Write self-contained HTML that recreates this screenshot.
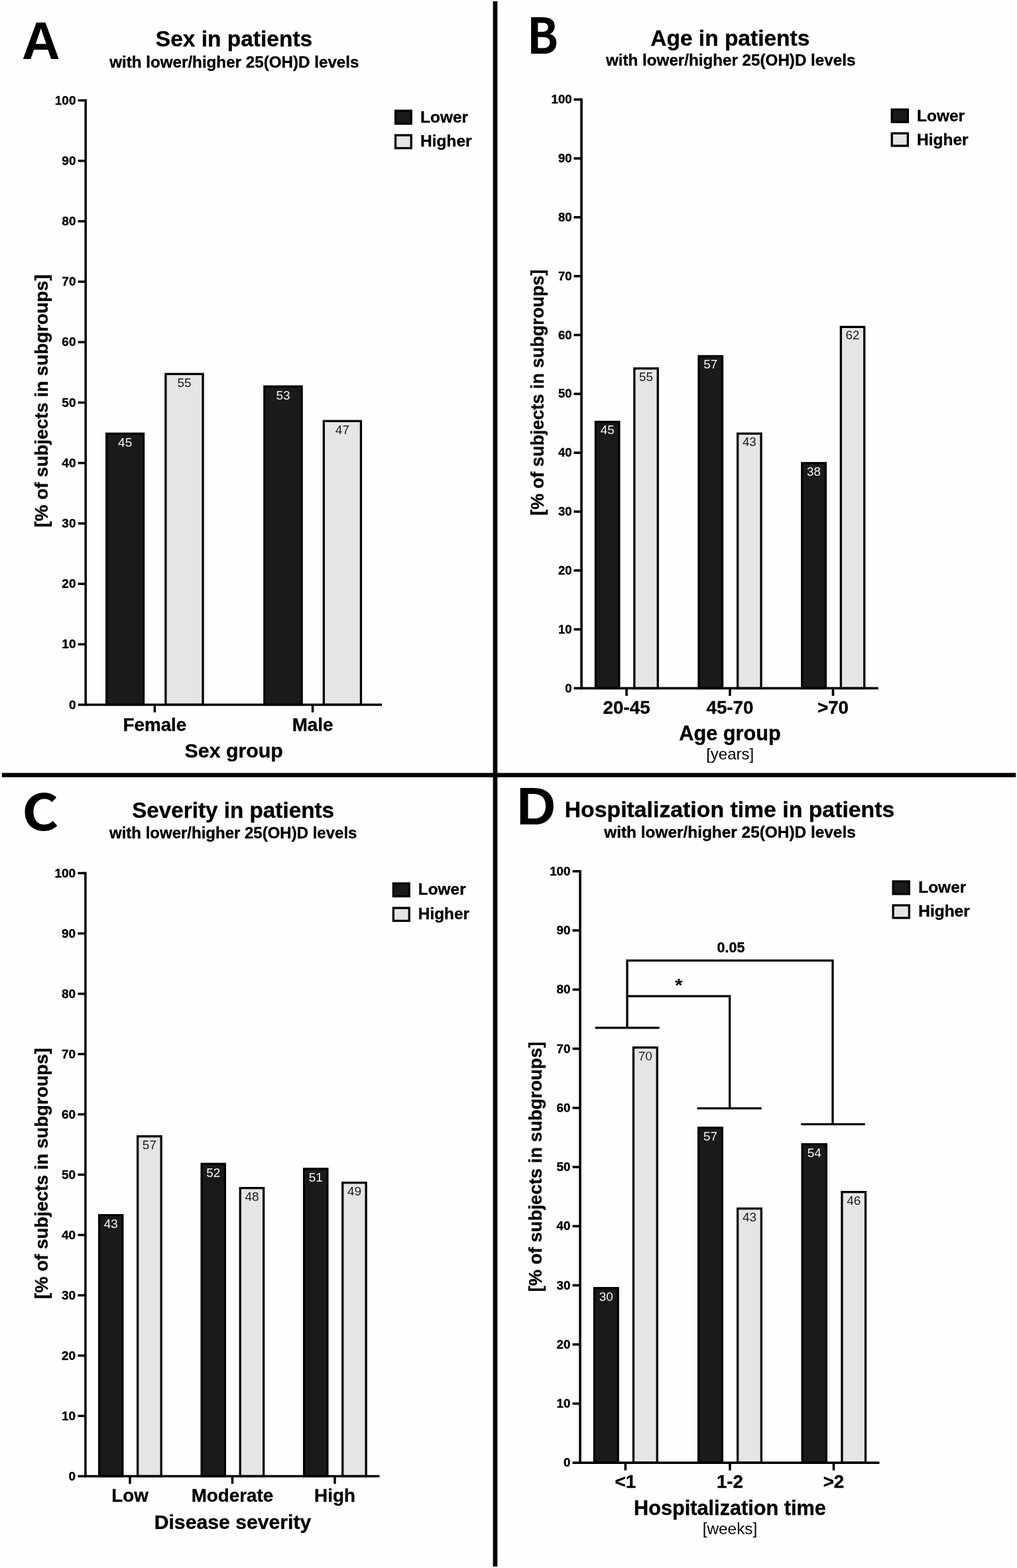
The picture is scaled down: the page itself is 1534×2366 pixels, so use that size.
<!DOCTYPE html>
<html lang="en">
<head>
<meta charset="utf-8">
<title>Patient characteristics with lower/higher 25(OH)D levels</title>
<style>
html,body{margin:0;padding:0;background:#fff;}
body{width:1534px;height:2366px;overflow:hidden;}
svg{display:block;font-family:"Liberation Sans", Arial, Helvetica, sans-serif;}
</style>
</head>
<body>
<svg role="img" aria-label="Four bar charts: sex, age, severity and hospitalization time in patients with lower/higher 25(OH)D levels" width="1534" height="2366" viewBox="0 0 1534 2366">
<rect x="0" y="0" width="1534" height="2366" fill="#fefefe"/>
<g>
<text transform="translate(32.69,89.0) scale(1.0111,1)" font-size="79.42" font-weight="bold" font-family='"Liberation Sans", Arial, Helvetica, sans-serif' text-anchor="start">A</text>
<text x="353.00" y="70.00" font-size="33.5" font-weight="bold" text-anchor="middle" fill="#000" stroke="#000" stroke-width="0.35" stroke-linejoin="round">Sex in patients</text>
<text x="353.30" y="101.50" font-size="24.2" font-weight="bold" text-anchor="middle" fill="#000" stroke="#000" stroke-width="0.35" stroke-linejoin="round">with lower/higher 25(OH)D levels</text>
<rect x="160.75" y="654.35" width="55.80" height="409.05" fill="#1a1a1a" stroke="#000" stroke-width="3.3"/>
<text x="188.65" y="674.30" font-size="19" font-weight="normal" text-anchor="middle" fill="#f2f2f2">45</text>
<rect x="249.85" y="564.35" width="56.20" height="499.05" fill="#e5e5e5" stroke="#000" stroke-width="3.3"/>
<text x="277.95" y="584.30" font-size="19" font-weight="normal" text-anchor="middle" fill="#1a1a1a">55</text>
<rect x="398.85" y="583.15" width="56.30" height="480.25" fill="#1a1a1a" stroke="#000" stroke-width="3.3"/>
<text x="427.00" y="603.10" font-size="19" font-weight="normal" text-anchor="middle" fill="#f2f2f2">53</text>
<rect x="488.35" y="635.35" width="56.10" height="428.05" fill="#e5e5e5" stroke="#000" stroke-width="3.3"/>
<text x="516.40" y="655.30" font-size="19" font-weight="normal" text-anchor="middle" fill="#1a1a1a">47</text>
<rect x="127.45" y="149.75" width="3.50" height="915.40" fill="#000"/>
<rect x="117.70" y="1061.65" width="458.30" height="3.50" fill="#000"/>
<text x="114.50" y="1069.60" font-size="19" font-weight="bold" text-anchor="end" fill="#000" stroke="#000" stroke-width="0.35" stroke-linejoin="round">0</text>
<rect x="117.70" y="970.46" width="11.50" height="3.50" fill="#000"/>
<text x="114.50" y="978.41" font-size="19" font-weight="bold" text-anchor="end" fill="#000" stroke="#000" stroke-width="0.35" stroke-linejoin="round">10</text>
<rect x="117.70" y="879.27" width="11.50" height="3.50" fill="#000"/>
<text x="114.50" y="887.22" font-size="19" font-weight="bold" text-anchor="end" fill="#000" stroke="#000" stroke-width="0.35" stroke-linejoin="round">20</text>
<rect x="117.70" y="788.08" width="11.50" height="3.50" fill="#000"/>
<text x="114.50" y="796.03" font-size="19" font-weight="bold" text-anchor="end" fill="#000" stroke="#000" stroke-width="0.35" stroke-linejoin="round">30</text>
<rect x="117.70" y="696.89" width="11.50" height="3.50" fill="#000"/>
<text x="114.50" y="704.84" font-size="19" font-weight="bold" text-anchor="end" fill="#000" stroke="#000" stroke-width="0.35" stroke-linejoin="round">40</text>
<rect x="117.70" y="605.70" width="11.50" height="3.50" fill="#000"/>
<text x="114.50" y="613.65" font-size="19" font-weight="bold" text-anchor="end" fill="#000" stroke="#000" stroke-width="0.35" stroke-linejoin="round">50</text>
<rect x="117.70" y="514.51" width="11.50" height="3.50" fill="#000"/>
<text x="114.50" y="522.46" font-size="19" font-weight="bold" text-anchor="end" fill="#000" stroke="#000" stroke-width="0.35" stroke-linejoin="round">60</text>
<rect x="117.70" y="423.32" width="11.50" height="3.50" fill="#000"/>
<text x="114.50" y="431.27" font-size="19" font-weight="bold" text-anchor="end" fill="#000" stroke="#000" stroke-width="0.35" stroke-linejoin="round">70</text>
<rect x="117.70" y="332.13" width="11.50" height="3.50" fill="#000"/>
<text x="114.50" y="340.08" font-size="19" font-weight="bold" text-anchor="end" fill="#000" stroke="#000" stroke-width="0.35" stroke-linejoin="round">80</text>
<rect x="117.70" y="240.94" width="11.50" height="3.50" fill="#000"/>
<text x="114.50" y="248.89" font-size="19" font-weight="bold" text-anchor="end" fill="#000" stroke="#000" stroke-width="0.35" stroke-linejoin="round">90</text>
<rect x="117.70" y="149.75" width="11.50" height="3.50" fill="#000"/>
<text x="114.50" y="157.70" font-size="19" font-weight="bold" text-anchor="end" fill="#000" stroke="#000" stroke-width="0.35" stroke-linejoin="round">100</text>
<rect x="231.65" y="1063.40" width="3.50" height="11.50" fill="#000"/>
<text x="233.40" y="1103.00" font-size="27.8" font-weight="bold" text-anchor="middle" fill="#000" stroke="#000" stroke-width="0.35" stroke-linejoin="round">Female</text>
<rect x="469.85" y="1063.40" width="3.50" height="11.50" fill="#000"/>
<text x="471.60" y="1103.00" font-size="27.8" font-weight="bold" text-anchor="middle" fill="#000" stroke="#000" stroke-width="0.35" stroke-linejoin="round">Male</text>
<text x="352.70" y="1142.50" font-size="30.3" font-weight="bold" text-anchor="middle" fill="#000" stroke="#000" stroke-width="0.35" stroke-linejoin="round">Sex group</text>
<text transform="translate(71.8,605) rotate(-90)" font-size="27.8" font-weight="bold" text-anchor="middle" stroke="#000" stroke-width="0.35" stroke-linejoin="round">[% of subjects in subgroups]</text>
<rect x="596.55" y="167.15" width="23.70" height="19.50" fill="#1a1a1a" stroke="#000" stroke-width="3.3"/>
<rect x="596.55" y="204.05" width="23.70" height="19.50" fill="#e5e5e5" stroke="#000" stroke-width="3.3"/>
<text x="634.00" y="184.70" font-size="24.5" font-weight="bold" text-anchor="start" fill="#000" stroke="#000" stroke-width="0.35" stroke-linejoin="round">Lower</text>
<text x="634.00" y="221.40" font-size="24.5" font-weight="bold" text-anchor="start" fill="#000" stroke="#000" stroke-width="0.35" stroke-linejoin="round">Higher</text>
</g>
<g>
<text transform="translate(794.75,80.5) scale(0.9431,1)" font-size="73.65" font-weight="bold" font-family='"Noto Sans CJK SC", "DejaVu Sans", "Liberation Sans", sans-serif' text-anchor="start">B</text>
<text x="1101.30" y="68.80" font-size="33.5" font-weight="bold" text-anchor="middle" fill="#000" stroke="#000" stroke-width="0.35" stroke-linejoin="round">Age in patients</text>
<text x="1102.20" y="99.20" font-size="24.2" font-weight="bold" text-anchor="middle" fill="#000" stroke="#000" stroke-width="0.35" stroke-linejoin="round">with lower/higher 25(OH)D levels</text>
<rect x="898.45" y="636.55" width="35.40" height="401.95" fill="#1a1a1a" stroke="#000" stroke-width="3.3"/>
<text x="916.15" y="655.40" font-size="18.8" font-weight="normal" text-anchor="middle" fill="#f2f2f2">45</text>
<rect x="956.85" y="555.95" width="35.40" height="482.55" fill="#e5e5e5" stroke="#000" stroke-width="3.3"/>
<text x="974.55" y="574.80" font-size="18.8" font-weight="normal" text-anchor="middle" fill="#1a1a1a">55</text>
<rect x="1054.05" y="537.45" width="35.50" height="501.05" fill="#1a1a1a" stroke="#000" stroke-width="3.3"/>
<text x="1071.80" y="556.30" font-size="18.8" font-weight="normal" text-anchor="middle" fill="#f2f2f2">57</text>
<rect x="1112.65" y="654.25" width="35.40" height="384.25" fill="#e5e5e5" stroke="#000" stroke-width="3.3"/>
<text x="1130.35" y="673.10" font-size="18.8" font-weight="normal" text-anchor="middle" fill="#1a1a1a">43</text>
<rect x="1209.75" y="698.75" width="35.60" height="339.75" fill="#1a1a1a" stroke="#000" stroke-width="3.3"/>
<text x="1227.55" y="717.60" font-size="18.8" font-weight="normal" text-anchor="middle" fill="#f2f2f2">38</text>
<rect x="1268.35" y="493.35" width="35.40" height="545.15" fill="#e5e5e5" stroke="#000" stroke-width="3.3"/>
<text x="1286.05" y="512.20" font-size="18.8" font-weight="normal" text-anchor="middle" fill="#1a1a1a">62</text>
<rect x="875.25" y="148.40" width="3.60" height="891.90" fill="#000"/>
<rect x="865.55" y="1036.70" width="459.25" height="3.60" fill="#000"/>
<text x="862.65" y="1044.60" font-size="18.6" font-weight="bold" text-anchor="end" fill="#000" stroke="#000" stroke-width="0.35" stroke-linejoin="round">0</text>
<rect x="865.55" y="947.87" width="11.50" height="3.60" fill="#000"/>
<text x="862.65" y="955.77" font-size="18.6" font-weight="bold" text-anchor="end" fill="#000" stroke="#000" stroke-width="0.35" stroke-linejoin="round">10</text>
<rect x="865.55" y="859.04" width="11.50" height="3.60" fill="#000"/>
<text x="862.65" y="866.94" font-size="18.6" font-weight="bold" text-anchor="end" fill="#000" stroke="#000" stroke-width="0.35" stroke-linejoin="round">20</text>
<rect x="865.55" y="770.21" width="11.50" height="3.60" fill="#000"/>
<text x="862.65" y="778.11" font-size="18.6" font-weight="bold" text-anchor="end" fill="#000" stroke="#000" stroke-width="0.35" stroke-linejoin="round">30</text>
<rect x="865.55" y="681.38" width="11.50" height="3.60" fill="#000"/>
<text x="862.65" y="689.28" font-size="18.6" font-weight="bold" text-anchor="end" fill="#000" stroke="#000" stroke-width="0.35" stroke-linejoin="round">40</text>
<rect x="865.55" y="592.55" width="11.50" height="3.60" fill="#000"/>
<text x="862.65" y="600.45" font-size="18.6" font-weight="bold" text-anchor="end" fill="#000" stroke="#000" stroke-width="0.35" stroke-linejoin="round">50</text>
<rect x="865.55" y="503.72" width="11.50" height="3.60" fill="#000"/>
<text x="862.65" y="511.62" font-size="18.6" font-weight="bold" text-anchor="end" fill="#000" stroke="#000" stroke-width="0.35" stroke-linejoin="round">60</text>
<rect x="865.55" y="414.89" width="11.50" height="3.60" fill="#000"/>
<text x="862.65" y="422.79" font-size="18.6" font-weight="bold" text-anchor="end" fill="#000" stroke="#000" stroke-width="0.35" stroke-linejoin="round">70</text>
<rect x="865.55" y="326.06" width="11.50" height="3.60" fill="#000"/>
<text x="862.65" y="333.96" font-size="18.6" font-weight="bold" text-anchor="end" fill="#000" stroke="#000" stroke-width="0.35" stroke-linejoin="round">80</text>
<rect x="865.55" y="237.23" width="11.50" height="3.60" fill="#000"/>
<text x="862.65" y="245.13" font-size="18.6" font-weight="bold" text-anchor="end" fill="#000" stroke="#000" stroke-width="0.35" stroke-linejoin="round">90</text>
<rect x="865.55" y="148.40" width="11.50" height="3.60" fill="#000"/>
<text x="862.65" y="156.30" font-size="18.6" font-weight="bold" text-anchor="end" fill="#000" stroke="#000" stroke-width="0.35" stroke-linejoin="round">100</text>
<rect x="943.30" y="1038.50" width="3.60" height="11.50" fill="#000"/>
<text x="945.10" y="1077.40" font-size="27.8" font-weight="bold" text-anchor="middle" fill="#000" stroke="#000" stroke-width="0.35" stroke-linejoin="round">20-45</text>
<rect x="1099.20" y="1038.50" width="3.60" height="11.50" fill="#000"/>
<text x="1101.00" y="1077.40" font-size="27.8" font-weight="bold" text-anchor="middle" fill="#000" stroke="#000" stroke-width="0.35" stroke-linejoin="round">45-70</text>
<rect x="1254.70" y="1038.50" width="3.60" height="11.50" fill="#000"/>
<text x="1256.50" y="1077.40" font-size="27.8" font-weight="bold" text-anchor="middle" fill="#000" stroke="#000" stroke-width="0.35" stroke-linejoin="round">&gt;70</text>
<text x="1101.00" y="1116.80" font-size="30.7" font-weight="bold" text-anchor="middle" fill="#000" stroke="#000" stroke-width="0.35" stroke-linejoin="round">Age group</text>
<text x="1101.20" y="1145.60" font-size="24" font-weight="normal" text-anchor="middle" fill="#000">[years]</text>
<text transform="translate(819.9,592.2) rotate(-90)" font-size="27.05" font-weight="bold" text-anchor="middle" stroke="#000" stroke-width="0.35" stroke-linejoin="round">[% of subjects in subgroups]</text>
<rect x="1345.25" y="165.25" width="24.10" height="18.90" fill="#1a1a1a" stroke="#000" stroke-width="3.3"/>
<rect x="1345.25" y="201.15" width="24.10" height="18.90" fill="#e5e5e5" stroke="#000" stroke-width="3.3"/>
<text x="1383.00" y="182.60" font-size="24.5" font-weight="bold" text-anchor="start" fill="#000" stroke="#000" stroke-width="0.35" stroke-linejoin="round">Lower</text>
<text x="1383.00" y="218.50" font-size="24.5" font-weight="bold" text-anchor="start" fill="#000" stroke="#000" stroke-width="0.35" stroke-linejoin="round">Higher</text>
</g>
<g>
<text transform="translate(33.04,1252.67) scale(1.123,1)" font-size="75.45" font-weight="bold" font-family='"Noto Sans CJK SC", "DejaVu Sans", "Liberation Sans", sans-serif' text-anchor="start">C</text>
<text x="351.60" y="1234.30" font-size="33.25" font-weight="bold" text-anchor="middle" fill="#000" stroke="#000" stroke-width="0.35" stroke-linejoin="round">Severity in patients</text>
<text x="351.70" y="1265.20" font-size="24.0" font-weight="bold" text-anchor="middle" fill="#000" stroke="#000" stroke-width="0.35" stroke-linejoin="round">with lower/higher 25(OH)D levels</text>
<rect x="149.65" y="1833.65" width="35.20" height="393.85" fill="#1a1a1a" stroke="#000" stroke-width="3.3"/>
<text x="167.25" y="1853.20" font-size="19" font-weight="normal" text-anchor="middle" fill="#f2f2f2">43</text>
<rect x="207.65" y="1714.65" width="35.50" height="512.85" fill="#e5e5e5" stroke="#000" stroke-width="3.3"/>
<text x="225.40" y="1734.20" font-size="19" font-weight="normal" text-anchor="middle" fill="#1a1a1a">57</text>
<rect x="304.15" y="1756.25" width="35.20" height="471.25" fill="#1a1a1a" stroke="#000" stroke-width="3.3"/>
<text x="321.75" y="1775.80" font-size="19" font-weight="normal" text-anchor="middle" fill="#f2f2f2">52</text>
<rect x="362.25" y="1792.65" width="35.40" height="434.85" fill="#e5e5e5" stroke="#000" stroke-width="3.3"/>
<text x="379.95" y="1812.20" font-size="19" font-weight="normal" text-anchor="middle" fill="#1a1a1a">48</text>
<rect x="458.65" y="1763.65" width="35.20" height="463.85" fill="#1a1a1a" stroke="#000" stroke-width="3.3"/>
<text x="476.25" y="1783.20" font-size="19" font-weight="normal" text-anchor="middle" fill="#f2f2f2">51</text>
<rect x="516.75" y="1784.65" width="35.40" height="442.85" fill="#e5e5e5" stroke="#000" stroke-width="3.3"/>
<text x="534.45" y="1804.20" font-size="19" font-weight="normal" text-anchor="middle" fill="#1a1a1a">49</text>
<rect x="127.15" y="1315.75" width="3.50" height="913.50" fill="#000"/>
<rect x="117.40" y="2225.75" width="455.10" height="3.50" fill="#000"/>
<text x="114.20" y="2233.70" font-size="19" font-weight="bold" text-anchor="end" fill="#000" stroke="#000" stroke-width="0.35" stroke-linejoin="round">0</text>
<rect x="117.40" y="2134.75" width="11.50" height="3.50" fill="#000"/>
<text x="114.20" y="2142.70" font-size="19" font-weight="bold" text-anchor="end" fill="#000" stroke="#000" stroke-width="0.35" stroke-linejoin="round">10</text>
<rect x="117.40" y="2043.75" width="11.50" height="3.50" fill="#000"/>
<text x="114.20" y="2051.70" font-size="19" font-weight="bold" text-anchor="end" fill="#000" stroke="#000" stroke-width="0.35" stroke-linejoin="round">20</text>
<rect x="117.40" y="1952.75" width="11.50" height="3.50" fill="#000"/>
<text x="114.20" y="1960.70" font-size="19" font-weight="bold" text-anchor="end" fill="#000" stroke="#000" stroke-width="0.35" stroke-linejoin="round">30</text>
<rect x="117.40" y="1861.75" width="11.50" height="3.50" fill="#000"/>
<text x="114.20" y="1869.70" font-size="19" font-weight="bold" text-anchor="end" fill="#000" stroke="#000" stroke-width="0.35" stroke-linejoin="round">40</text>
<rect x="117.40" y="1770.75" width="11.50" height="3.50" fill="#000"/>
<text x="114.20" y="1778.70" font-size="19" font-weight="bold" text-anchor="end" fill="#000" stroke="#000" stroke-width="0.35" stroke-linejoin="round">50</text>
<rect x="117.40" y="1679.75" width="11.50" height="3.50" fill="#000"/>
<text x="114.20" y="1687.70" font-size="19" font-weight="bold" text-anchor="end" fill="#000" stroke="#000" stroke-width="0.35" stroke-linejoin="round">60</text>
<rect x="117.40" y="1588.75" width="11.50" height="3.50" fill="#000"/>
<text x="114.20" y="1596.70" font-size="19" font-weight="bold" text-anchor="end" fill="#000" stroke="#000" stroke-width="0.35" stroke-linejoin="round">70</text>
<rect x="117.40" y="1497.75" width="11.50" height="3.50" fill="#000"/>
<text x="114.20" y="1505.70" font-size="19" font-weight="bold" text-anchor="end" fill="#000" stroke="#000" stroke-width="0.35" stroke-linejoin="round">80</text>
<rect x="117.40" y="1406.75" width="11.50" height="3.50" fill="#000"/>
<text x="114.20" y="1414.70" font-size="19" font-weight="bold" text-anchor="end" fill="#000" stroke="#000" stroke-width="0.35" stroke-linejoin="round">90</text>
<rect x="117.40" y="1315.75" width="11.50" height="3.50" fill="#000"/>
<text x="114.20" y="1323.70" font-size="19" font-weight="bold" text-anchor="end" fill="#000" stroke="#000" stroke-width="0.35" stroke-linejoin="round">100</text>
<rect x="194.25" y="2227.50" width="3.50" height="11.50" fill="#000"/>
<text x="196.00" y="2266.40" font-size="27.8" font-weight="bold" text-anchor="middle" fill="#000" stroke="#000" stroke-width="0.35" stroke-linejoin="round">Low</text>
<rect x="348.75" y="2227.50" width="3.50" height="11.50" fill="#000"/>
<text x="350.50" y="2266.40" font-size="27.8" font-weight="bold" text-anchor="middle" fill="#000" stroke="#000" stroke-width="0.35" stroke-linejoin="round">Moderate</text>
<rect x="503.25" y="2227.50" width="3.50" height="11.50" fill="#000"/>
<text x="505.00" y="2266.40" font-size="27.8" font-weight="bold" text-anchor="middle" fill="#000" stroke="#000" stroke-width="0.35" stroke-linejoin="round">High</text>
<text x="351.00" y="2306.60" font-size="30.2" font-weight="bold" text-anchor="middle" fill="#000" stroke="#000" stroke-width="0.35" stroke-linejoin="round">Disease severity</text>
<text transform="translate(71.5,1770.6) rotate(-90)" font-size="27.6" font-weight="bold" text-anchor="middle" stroke="#000" stroke-width="0.35" stroke-linejoin="round">[% of subjects in subgroups]</text>
<rect x="593.35" y="1333.05" width="23.90" height="19.40" fill="#1a1a1a" stroke="#000" stroke-width="3.3"/>
<rect x="593.35" y="1370.05" width="23.90" height="19.40" fill="#e5e5e5" stroke="#000" stroke-width="3.3"/>
<text x="630.80" y="1350.40" font-size="24.4" font-weight="bold" text-anchor="start" fill="#000" stroke="#000" stroke-width="0.35" stroke-linejoin="round">Lower</text>
<text x="630.80" y="1387.40" font-size="24.4" font-weight="bold" text-anchor="start" fill="#000" stroke="#000" stroke-width="0.35" stroke-linejoin="round">Higher</text>
</g>
<g>
<text transform="translate(779.18,1244.0) scale(1.0317,1)" font-size="79.28" font-weight="bold" font-family='"Liberation Sans", Arial, Helvetica, sans-serif' text-anchor="start">D</text>
<text x="1100.50" y="1233.00" font-size="33.8" font-weight="bold" text-anchor="middle" fill="#000" stroke="#000" stroke-width="0.35" stroke-linejoin="round">Hospitalization time in patients</text>
<text x="1101.00" y="1264.00" font-size="24.4" font-weight="bold" text-anchor="middle" fill="#000" stroke="#000" stroke-width="0.35" stroke-linejoin="round">with lower/higher 25(OH)D levels</text>
<rect x="896.45" y="1943.65" width="35.70" height="263.55" fill="#1a1a1a" stroke="#000" stroke-width="3.3"/>
<text x="914.30" y="1963.00" font-size="19" font-weight="normal" text-anchor="middle" fill="#f2f2f2">30</text>
<rect x="955.45" y="1580.65" width="35.80" height="626.55" fill="#e5e5e5" stroke="#000" stroke-width="3.3"/>
<text x="973.35" y="1600.00" font-size="19" font-weight="normal" text-anchor="middle" fill="#1a1a1a">70</text>
<rect x="1053.65" y="1701.65" width="35.70" height="505.55" fill="#1a1a1a" stroke="#000" stroke-width="3.3"/>
<text x="1071.50" y="1721.00" font-size="19" font-weight="normal" text-anchor="middle" fill="#f2f2f2">57</text>
<rect x="1112.65" y="1823.65" width="35.70" height="383.55" fill="#e5e5e5" stroke="#000" stroke-width="3.3"/>
<text x="1130.50" y="1843.00" font-size="19" font-weight="normal" text-anchor="middle" fill="#1a1a1a">43</text>
<rect x="1210.15" y="1726.65" width="36.20" height="480.55" fill="#1a1a1a" stroke="#000" stroke-width="3.3"/>
<text x="1228.25" y="1746.00" font-size="19" font-weight="normal" text-anchor="middle" fill="#f2f2f2">54</text>
<rect x="1269.95" y="1798.65" width="35.60" height="408.55" fill="#e5e5e5" stroke="#000" stroke-width="3.3"/>
<text x="1287.75" y="1818.00" font-size="19" font-weight="normal" text-anchor="middle" fill="#1a1a1a">46</text>
<rect x="873.25" y="1312.90" width="3.60" height="896.10" fill="#000"/>
<rect x="863.55" y="2205.40" width="462.95" height="3.60" fill="#000"/>
<text x="860.35" y="2213.30" font-size="18.7" font-weight="bold" text-anchor="end" fill="#000" stroke="#000" stroke-width="0.35" stroke-linejoin="round">0</text>
<rect x="863.55" y="2116.15" width="11.50" height="3.60" fill="#000"/>
<text x="860.35" y="2124.05" font-size="18.7" font-weight="bold" text-anchor="end" fill="#000" stroke="#000" stroke-width="0.35" stroke-linejoin="round">10</text>
<rect x="863.55" y="2026.90" width="11.50" height="3.60" fill="#000"/>
<text x="860.35" y="2034.80" font-size="18.7" font-weight="bold" text-anchor="end" fill="#000" stroke="#000" stroke-width="0.35" stroke-linejoin="round">20</text>
<rect x="863.55" y="1937.65" width="11.50" height="3.60" fill="#000"/>
<text x="860.35" y="1945.55" font-size="18.7" font-weight="bold" text-anchor="end" fill="#000" stroke="#000" stroke-width="0.35" stroke-linejoin="round">30</text>
<rect x="863.55" y="1848.40" width="11.50" height="3.60" fill="#000"/>
<text x="860.35" y="1856.30" font-size="18.7" font-weight="bold" text-anchor="end" fill="#000" stroke="#000" stroke-width="0.35" stroke-linejoin="round">40</text>
<rect x="863.55" y="1759.15" width="11.50" height="3.60" fill="#000"/>
<text x="860.35" y="1767.05" font-size="18.7" font-weight="bold" text-anchor="end" fill="#000" stroke="#000" stroke-width="0.35" stroke-linejoin="round">50</text>
<rect x="863.55" y="1669.90" width="11.50" height="3.60" fill="#000"/>
<text x="860.35" y="1677.80" font-size="18.7" font-weight="bold" text-anchor="end" fill="#000" stroke="#000" stroke-width="0.35" stroke-linejoin="round">60</text>
<rect x="863.55" y="1580.65" width="11.50" height="3.60" fill="#000"/>
<text x="860.35" y="1588.55" font-size="18.7" font-weight="bold" text-anchor="end" fill="#000" stroke="#000" stroke-width="0.35" stroke-linejoin="round">70</text>
<rect x="863.55" y="1491.40" width="11.50" height="3.60" fill="#000"/>
<text x="860.35" y="1499.30" font-size="18.7" font-weight="bold" text-anchor="end" fill="#000" stroke="#000" stroke-width="0.35" stroke-linejoin="round">80</text>
<rect x="863.55" y="1402.15" width="11.50" height="3.60" fill="#000"/>
<text x="860.35" y="1410.05" font-size="18.7" font-weight="bold" text-anchor="end" fill="#000" stroke="#000" stroke-width="0.35" stroke-linejoin="round">90</text>
<rect x="863.55" y="1312.90" width="11.50" height="3.60" fill="#000"/>
<text x="860.35" y="1320.80" font-size="18.7" font-weight="bold" text-anchor="end" fill="#000" stroke="#000" stroke-width="0.35" stroke-linejoin="round">100</text>
<rect x="941.60" y="2207.20" width="3.60" height="11.50" fill="#000"/>
<text x="943.40" y="2245.00" font-size="27.8" font-weight="bold" text-anchor="middle" fill="#000" stroke="#000" stroke-width="0.35" stroke-linejoin="round">&lt;1</text>
<rect x="1099.20" y="2207.20" width="3.60" height="11.50" fill="#000"/>
<text x="1101.00" y="2245.00" font-size="27.8" font-weight="bold" text-anchor="middle" fill="#000" stroke="#000" stroke-width="0.35" stroke-linejoin="round">1-2</text>
<rect x="1255.70" y="2207.20" width="3.60" height="11.50" fill="#000"/>
<text x="1257.50" y="2245.00" font-size="27.8" font-weight="bold" text-anchor="middle" fill="#000" stroke="#000" stroke-width="0.35" stroke-linejoin="round">&gt;2</text>
<text x="1101.00" y="2285.50" font-size="30.7" font-weight="bold" text-anchor="middle" fill="#000" stroke="#000" stroke-width="0.35" stroke-linejoin="round">Hospitalization time</text>
<text x="1101.00" y="2315.00" font-size="24.4" font-weight="normal" text-anchor="middle" fill="#000">[weeks]</text>
<text transform="translate(816.8,1760.6) rotate(-90)" font-size="27.5" font-weight="bold" text-anchor="middle" stroke="#000" stroke-width="0.35" stroke-linejoin="round">[% of subjects in subgroups]</text>
<rect x="1347.15" y="1329.95" width="24.20" height="19.00" fill="#1a1a1a" stroke="#000" stroke-width="3.3"/>
<rect x="1347.15" y="1366.05" width="24.20" height="19.00" fill="#e5e5e5" stroke="#000" stroke-width="3.3"/>
<text x="1385.20" y="1346.70" font-size="24.5" font-weight="bold" text-anchor="start" fill="#000" stroke="#000" stroke-width="0.35" stroke-linejoin="round">Lower</text>
<text x="1385.20" y="1383.30" font-size="24.5" font-weight="bold" text-anchor="start" fill="#000" stroke="#000" stroke-width="0.35" stroke-linejoin="round">Higher</text>
<path d="M899,1550.8 H993.5 M946,1550.8 V1449.4 H1256 V1696.4 M1209.5,1696.4 H1303.5 M946,1503.1 H1100.7 V1672.4 M1053,1672.4 H1147.5" fill="none" stroke="#000" stroke-width="3.3" stroke-linecap="round"/>
<text x="1102.5" y="1437" font-size="21.5" font-weight="bold" text-anchor="middle" stroke="#000" stroke-width="0.35">0.05</text>
<text transform="translate(1023.8,1495.9) scale(1.08,1)" font-size="27.5" font-weight="bold" text-anchor="middle">*</text>
</g>
<rect x="743.6" y="1.8" width="6.7" height="2362" fill="#000"/>
<rect x="2.9" y="1166.3" width="1529.4" height="6.5" fill="#000"/>
</svg>
</body>
</html>
